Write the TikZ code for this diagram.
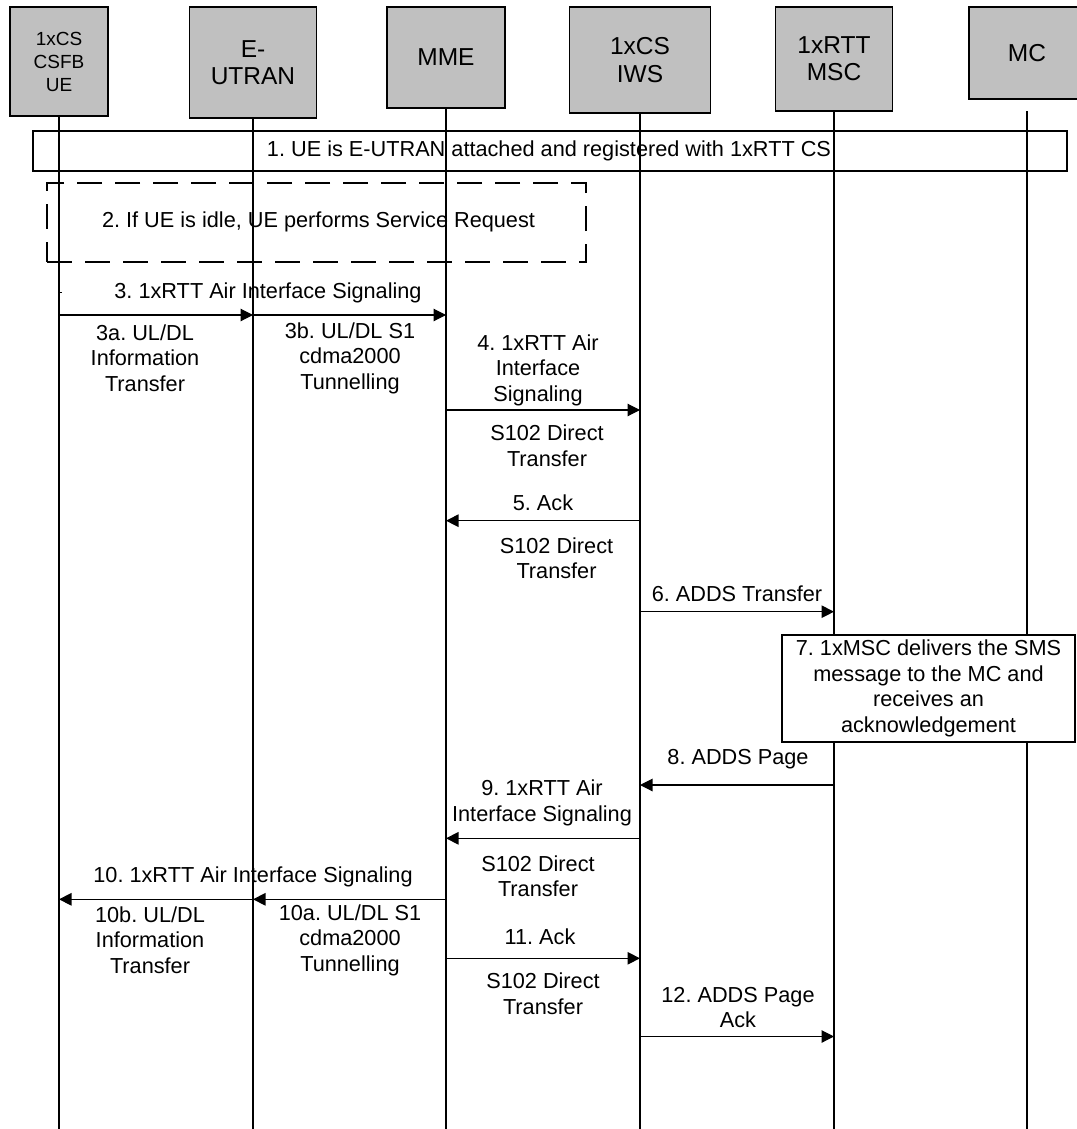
\documentclass[tikz,border=0pt]{standalone}
\usepackage{fontspec}
\setmainfont{Liberation Sans}
\usetikzlibrary{arrows.meta}
\definecolor{hdrgray}{HTML}{C0C0C0}
\frenchspacing
\begin{document}
\frenchspacing
\begin{tikzpicture}[x=1pt,y=-1pt,
  hdr/.style={draw=black, line width=1.3pt, fill=hdrgray, align=center, inner sep=0pt,
    font=\fontsize{24.5}{27.3}\selectfont},
  hdrsmall/.style={hdr, font=\fontsize{19}{23}\selectfont},
  lifeline/.style={line width=1.1pt},
  msg/.style={line width=1.1pt, -{Triangle[length=12.5pt,width=12.5pt]}},
  lbl/.style={align=center, inner sep=0pt, font=\fontsize{21.7}{25.6}\selectfont},
  eventbox/.style={draw=black, line width=1.3pt, inner sep=0pt},
  dashbox/.style={draw=black, line width=1.3pt, dash pattern=on 25pt off 13pt, inner sep=0pt},
  notebox/.style={draw=black, line width=1.3pt, fill=white, inner sep=0pt, align=center,
    font=\fontsize{21.7}{25.6}\selectfont}
]
\useasboundingbox (0,0) rectangle (1076,1129);
\fill[white] (0,0) rectangle (1076,1129);

% header boxes
\node[hdrsmall, minimum width=98pt, minimum height=109pt] (ue) at (59,61.5) {1xCS\\CSFB\\UE};
\node[hdr, minimum width=127pt, minimum height=111pt] (eu) at (253,62.5) {E-\\UTRAN};
\node[hdr, minimum width=118pt, minimum height=101pt] (mme) at (446,57.5) {MME};
\node[hdr, minimum width=141pt, minimum height=106pt] (iws) at (640,60) {1xCS\\IWS};
\node[hdr, minimum width=117pt, minimum height=104pt] (msc) at (834,59) {1xRTT\\MSC};
\node[hdr, minimum width=116pt, minimum height=92pt] (mc) at (1027,53) {MC};

% row coordinates
\coordinate (bot) at (0,1129);
\coordinate (mctop) at (0,111.5);
\coordinate (tick) at (0,292);
\coordinate (y3) at (0,315);
\coordinate (y4) at (0,410);
\coordinate (y5) at (0,520.7);
\coordinate (y6) at (0,611.7);
\coordinate (y8) at (0,785);
\coordinate (y9) at (0,838.3);
\coordinate (y10) at (0,899.3);
\coordinate (y11) at (0,958.3);
\coordinate (y12) at (0,1036.5);

% event boxes (transparent)
\node[eventbox, minimum width=1034pt, minimum height=40pt] (ev1) at (550,151) {};
\node[lbl] (ev1t) at (549,151) {1. UE is E-UTRAN attached and registered with 1xRTT CS};
\node[dashbox, minimum width=539pt, minimum height=79pt] (ev2) at (316.5,222.5) {};
\node[lbl] (ev2t) at (318.5,222) {2. If UE is idle, UE performs Service Request};

% lifelines
\draw[lifeline] (ue.south) -- (ue |- bot);
\draw[lifeline] (eu.south) -- (eu |- bot);
\draw[lifeline] (mme.south) -- (mme |- bot);
\draw[lifeline] (iws.south) -- (iws |- bot);
\draw[lifeline] (msc.south) -- (msc |- bot);
\draw[lifeline] (mc |- mctop) -- (mc |- bot);
\draw[line width=1pt] (ue |- tick) -- ++(3,0);

% messages
\draw[msg] (ue |- y3) -- (eu |- y3);
\draw[msg] (eu |- y3) -- (mme |- y3);
\draw[msg] (mme |- y4) -- (iws |- y4);
\draw[msg] (iws |- y5) -- (mme |- y5);
\draw[msg] (iws |- y6) -- (msc |- y6);
\draw[msg] (msc |- y8) -- (iws |- y8);
\draw[msg] (iws |- y9) -- (mme |- y9);
\draw[msg] (mme |- y10) -- (eu |- y10);
\draw[msg] (eu |- y10) -- (ue |- y10);
\draw[msg] (mme |- y11) -- (iws |- y11);
\draw[msg] (iws |- y12) -- (msc |- y12);

% note box 7 (opaque)
\node[notebox, minimum width=293pt, minimum height=107pt] (ev7) at (928.5,688.5)
  {7. 1xMSC delivers the SMS\\message to the MC and\\receives an\\acknowledgement};

% labels
\node[lbl] (l3) at (268,292.5) {3. 1xRTT Air Interface Signaling};
\node[lbl] (l3a) at (145,358) {3a. UL/DL\\Information\\Transfer};
\node[lbl] (l3b) at (350,358) {3b. UL/DL S1\\cdma2000\\Tunnelling};
\node[lbl] (l4) at (538,370) {4. 1xRTT Air\\Interface\\Signaling};
\node[lbl] (l4s) at (547,445.5) {S102 Direct\\Transfer};
\node[lbl] (l5) at (543,502.7) {5. Ack};
\node[lbl] (l5s) at (556.5,558.4) {S102 Direct\\Transfer};
\node[lbl] (l6) at (737,593.3) {6. ADDS Transfer};
\node[lbl] (l8) at (738,759.3) {8. ADDS Page};
\node[lbl] (l9) at (542,802.7) {9. 1xRTT Air\\Interface Signaling};
\node[lbl] (l9s) at (538,876.3) {S102 Direct\\Transfer};
\node[lbl] (l10) at (253,876.7) {10. 1xRTT Air Interface Signaling};
\node[lbl] (l10b) at (150,940) {10b. UL/DL\\Information\\Transfer};
\node[lbl] (l10a) at (350,940) {10a. UL/DL S1\\cdma2000\\Tunnelling};
\node[lbl] (l11) at (540,936.7) {11. Ack};
\node[lbl] (l11s) at (543,993.7) {S102 Direct\\Transfer};
\node[lbl] (l12) at (738,1007.5) {12. ADDS Page\\Ack};
\end{tikzpicture}
\end{document}
